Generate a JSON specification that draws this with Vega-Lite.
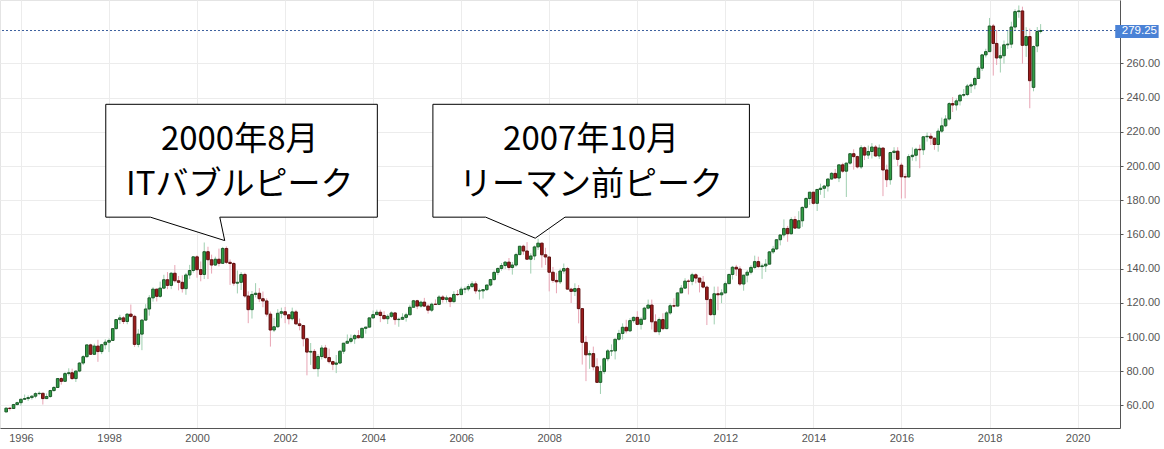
{
  "$schema": "https://vega.github.io/schema/vega-lite/v6.json",
  "width": 1120,
  "height": 428,
  "autosize": "none",
  "padding": {"left": 0, "top": 0, "right": 44, "bottom": 21},
  "background": "white",
  "config": {
    "view": {"stroke": "#e4e4e4"},
    "font": "Liberation Sans",
    "axis": {"labelFont": "Liberation Sans", "gridColor": "#ececec", "gridWidth": 1}
  },
  "datasets": {
    "spy": [
      {"d":"1995-09-01","o":56.2,"h":58.8,"l":56.0,"c":58.4},
      {"d":"1995-10-01","o":58.4,"h":58.9,"l":57.0,"c":58.2},
      {"d":"1995-11-01","o":58.2,"h":60.9,"l":57.9,"c":60.5},
      {"d":"1995-12-01","o":60.5,"h":62.2,"l":60.0,"c":61.6},
      {"d":"1996-01-01","o":61.6,"h":63.9,"l":59.8,"c":63.6},
      {"d":"1996-02-01","o":63.6,"h":66.4,"l":63.3,"c":64.0},
      {"d":"1996-03-01","o":64.0,"h":65.9,"l":62.6,"c":64.6},
      {"d":"1996-04-01","o":64.6,"h":66.0,"l":63.4,"c":65.4},
      {"d":"1996-05-01","o":65.4,"h":67.7,"l":64.2,"c":66.9},
      {"d":"1996-06-01","o":66.9,"h":68.2,"l":66.0,"c":67.1},
      {"d":"1996-07-01","o":67.1,"h":67.4,"l":60.5,"c":64.0},
      {"d":"1996-08-01","o":64.0,"h":67.0,"l":63.9,"c":65.2},
      {"d":"1996-09-01","o":65.2,"h":69.1,"l":64.5,"c":68.7},
      {"d":"1996-10-01","o":68.7,"h":71.4,"l":68.0,"c":70.5},
      {"d":"1996-11-01","o":70.5,"h":76.0,"l":70.4,"c":75.7},
      {"d":"1996-12-01","o":75.7,"h":76.5,"l":72.2,"c":74.1},
      {"d":"1997-01-01","o":74.1,"h":79.5,"l":73.7,"c":78.6},
      {"d":"1997-02-01","o":78.6,"h":81.7,"l":77.4,"c":79.1},
      {"d":"1997-03-01","o":79.1,"h":81.5,"l":75.0,"c":75.7},
      {"d":"1997-04-01","o":75.7,"h":80.4,"l":73.7,"c":80.1},
      {"d":"1997-05-01","o":80.1,"h":85.2,"l":79.4,"c":84.8},
      {"d":"1997-06-01","o":84.8,"h":89.4,"l":83.6,"c":88.5},
      {"d":"1997-07-01","o":88.5,"h":95.6,"l":88.0,"c":95.4},
      {"d":"1997-08-01","o":95.4,"h":96.1,"l":89.5,"c":89.9},
      {"d":"1997-09-01","o":89.9,"h":96.1,"l":89.5,"c":94.7},
      {"d":"1997-10-01","o":94.7,"h":98.4,"l":85.5,"c":91.5},
      {"d":"1997-11-01","o":91.5,"h":96.0,"l":90.0,"c":95.5},
      {"d":"1997-12-01","o":95.5,"h":98.7,"l":92.8,"c":97.0},
      {"d":"1998-01-01","o":97.0,"h":99.2,"l":91.2,"c":98.0},
      {"d":"1998-02-01","o":98.0,"h":105.0,"l":97.8,"c":104.9},
      {"d":"1998-03-01","o":104.9,"h":110.5,"l":104.4,"c":110.2},
      {"d":"1998-04-01","o":110.2,"h":113.0,"l":107.6,"c":111.2},
      {"d":"1998-05-01","o":111.2,"h":112.2,"l":107.6,"c":109.1},
      {"d":"1998-06-01","o":109.1,"h":113.9,"l":107.5,"c":113.4},
      {"d":"1998-07-01","o":113.4,"h":119.0,"l":111.4,"c":112.1},
      {"d":"1998-08-01","o":112.1,"h":113.0,"l":94.2,"c":95.7},
      {"d":"1998-09-01","o":95.7,"h":104.6,"l":94.0,"c":101.7},
      {"d":"1998-10-01","o":101.7,"h":110.5,"l":92.3,"c":109.9},
      {"d":"1998-11-01","o":109.9,"h":119.2,"l":109.6,"c":116.4},
      {"d":"1998-12-01","o":116.4,"h":124.5,"l":112.5,"c":122.9},
      {"d":"1999-01-01","o":122.9,"h":129.1,"l":120.7,"c":128.0},
      {"d":"1999-02-01","o":128.0,"h":128.2,"l":120.8,"c":123.8},
      {"d":"1999-03-01","o":123.8,"h":132.4,"l":122.9,"c":128.6},
      {"d":"1999-04-01","o":128.6,"h":136.4,"l":128.0,"c":133.5},
      {"d":"1999-05-01","o":133.5,"h":138.0,"l":128.0,"c":130.2},
      {"d":"1999-06-01","o":130.2,"h":138.0,"l":128.0,"c":137.3},
      {"d":"1999-07-01","o":137.3,"h":142.1,"l":131.8,"c":132.9},
      {"d":"1999-08-01","o":132.9,"h":135.7,"l":127.3,"c":132.0},
      {"d":"1999-09-01","o":132.0,"h":136.1,"l":126.0,"c":128.3},
      {"d":"1999-10-01","o":128.3,"h":137.5,"l":124.7,"c":136.3},
      {"d":"1999-11-01","o":136.3,"h":142.2,"l":134.0,"c":138.9},
      {"d":"1999-12-01","o":138.9,"h":147.3,"l":137.7,"c":146.9},
      {"d":"2000-01-01","o":146.9,"h":147.8,"l":134.7,"c":139.4},
      {"d":"2000-02-01","o":139.4,"h":144.2,"l":132.6,"c":136.6},
      {"d":"2000-03-01","o":136.6,"h":155.3,"l":133.9,"c":149.9},
      {"d":"2000-04-01","o":149.9,"h":152.8,"l":133.9,"c":145.2},
      {"d":"2000-05-01","o":145.2,"h":148.2,"l":137.1,"c":142.1},
      {"d":"2000-06-01","o":142.1,"h":147.0,"l":141.6,"c":145.5},
      {"d":"2000-07-01","o":145.5,"h":151.7,"l":141.3,"c":143.1},
      {"d":"2000-08-01","o":143.1,"h":152.7,"l":143.0,"c":151.8},
      {"d":"2000-09-01","o":151.8,"h":153.0,"l":142.7,"c":143.7},
      {"d":"2000-10-01","o":143.7,"h":145.4,"l":130.5,"c":143.0},
      {"d":"2000-11-01","o":143.0,"h":143.9,"l":130.0,"c":131.5},
      {"d":"2000-12-01","o":131.5,"h":138.9,"l":125.5,"c":132.0},
      {"d":"2001-01-01","o":132.0,"h":138.0,"l":127.5,"c":136.6},
      {"d":"2001-02-01","o":136.6,"h":137.6,"l":122.9,"c":124.0},
      {"d":"2001-03-01","o":124.0,"h":126.7,"l":108.1,"c":116.0},
      {"d":"2001-04-01","o":116.0,"h":126.9,"l":110.8,"c":124.9},
      {"d":"2001-05-01","o":124.9,"h":131.5,"l":123.2,"c":125.6},
      {"d":"2001-06-01","o":125.6,"h":128.6,"l":120.4,"c":122.4},
      {"d":"2001-07-01","o":122.4,"h":126.6,"l":117.4,"c":121.1},
      {"d":"2001-08-01","o":121.1,"h":122.6,"l":112.0,"c":113.4},
      {"d":"2001-09-01","o":113.4,"h":114.9,"l":94.4,"c":104.1},
      {"d":"2001-10-01","o":104.1,"h":111.2,"l":102.9,"c":106.0},
      {"d":"2001-11-01","o":106.0,"h":116.3,"l":105.5,"c":113.9},
      {"d":"2001-12-01","o":113.9,"h":117.2,"l":111.0,"c":114.8},
      {"d":"2002-01-01","o":114.8,"h":117.6,"l":108.1,"c":113.0},
      {"d":"2002-02-01","o":113.0,"h":113.5,"l":107.4,"c":110.7},
      {"d":"2002-03-01","o":110.7,"h":117.2,"l":109.7,"c":114.7},
      {"d":"2002-04-01","o":114.7,"h":115.9,"l":107.2,"c":107.7},
      {"d":"2002-05-01","o":107.7,"h":110.8,"l":103.9,"c":106.7},
      {"d":"2002-06-01","o":106.7,"h":107.1,"l":94.5,"c":99.0},
      {"d":"2002-07-01","o":99.0,"h":99.6,"l":77.6,"c":91.2},
      {"d":"2002-08-01","o":91.2,"h":96.5,"l":83.7,"c":91.6},
      {"d":"2002-09-01","o":91.6,"h":93.0,"l":81.3,"c":81.5},
      {"d":"2002-10-01","o":81.5,"h":90.0,"l":76.8,"c":88.6},
      {"d":"2002-11-01","o":88.6,"h":95.2,"l":86.9,"c":93.6},
      {"d":"2002-12-01","o":93.6,"h":95.4,"l":87.1,"c":88.0},
      {"d":"2003-01-01","o":88.0,"h":93.2,"l":84.5,"c":85.6},
      {"d":"2003-02-01","o":85.6,"h":86.2,"l":80.6,"c":84.1},
      {"d":"2003-03-01","o":84.1,"h":89.5,"l":78.9,"c":84.8},
      {"d":"2003-04-01","o":84.8,"h":92.4,"l":84.2,"c":91.7},
      {"d":"2003-05-01","o":91.7,"h":96.5,"l":90.1,"c":96.4},
      {"d":"2003-06-01","o":96.4,"h":101.5,"l":96.0,"c":97.5},
      {"d":"2003-07-01","o":97.5,"h":101.5,"l":96.3,"c":99.0},
      {"d":"2003-08-01","o":99.0,"h":101.8,"l":96.0,"c":100.8},
      {"d":"2003-09-01","o":100.8,"h":104.0,"l":99.0,"c":99.6},
      {"d":"2003-10-01","o":99.6,"h":105.3,"l":99.3,"c":105.1},
      {"d":"2003-11-01","o":105.1,"h":106.0,"l":102.0,"c":105.8},
      {"d":"2003-12-01","o":105.8,"h":111.3,"l":105.6,"c":111.2},
      {"d":"2004-01-01","o":111.2,"h":115.5,"l":110.6,"c":113.1},
      {"d":"2004-02-01","o":113.1,"h":116.0,"l":112.8,"c":114.5},
      {"d":"2004-03-01","o":114.5,"h":116.0,"l":108.7,"c":112.6},
      {"d":"2004-04-01","o":112.6,"h":115.1,"l":110.7,"c":110.7},
      {"d":"2004-05-01","o":110.7,"h":113.3,"l":107.6,"c":112.1},
      {"d":"2004-06-01","o":112.1,"h":115.0,"l":111.2,"c":114.1},
      {"d":"2004-07-01","o":114.1,"h":114.4,"l":107.2,"c":110.2},
      {"d":"2004-08-01","o":110.2,"h":111.3,"l":106.0,"c":110.4},
      {"d":"2004-09-01","o":110.4,"h":113.9,"l":110.0,"c":111.5},
      {"d":"2004-10-01","o":111.5,"h":114.2,"l":109.0,"c":113.0},
      {"d":"2004-11-01","o":113.0,"h":118.9,"l":113.0,"c":117.4},
      {"d":"2004-12-01","o":117.4,"h":121.7,"l":117.4,"c":121.2},
      {"d":"2005-01-01","o":121.2,"h":121.8,"l":116.3,"c":118.1},
      {"d":"2005-02-01","o":118.1,"h":121.3,"l":117.2,"c":120.4},
      {"d":"2005-03-01","o":120.4,"h":122.9,"l":117.5,"c":118.1},
      {"d":"2005-04-01","o":118.1,"h":119.2,"l":113.7,"c":115.7},
      {"d":"2005-05-01","o":115.7,"h":120.1,"l":114.6,"c":119.2},
      {"d":"2005-06-01","o":119.2,"h":122.0,"l":118.8,"c":119.1},
      {"d":"2005-07-01","o":119.1,"h":124.5,"l":118.7,"c":123.4},
      {"d":"2005-08-01","o":123.4,"h":124.5,"l":120.1,"c":122.0},
      {"d":"2005-09-01","o":122.0,"h":124.3,"l":120.2,"c":122.9},
      {"d":"2005-10-01","o":122.9,"h":123.4,"l":117.5,"c":120.7},
      {"d":"2005-11-01","o":120.7,"h":126.8,"l":120.1,"c":124.9},
      {"d":"2005-12-01","o":124.9,"h":127.5,"l":124.0,"c":124.8},
      {"d":"2006-01-01","o":124.8,"h":129.4,"l":124.6,"c":128.0},
      {"d":"2006-02-01","o":128.0,"h":129.5,"l":125.6,"c":128.1},
      {"d":"2006-03-01","o":128.1,"h":131.0,"l":126.8,"c":129.5},
      {"d":"2006-04-01","o":129.5,"h":132.6,"l":128.6,"c":131.1},
      {"d":"2006-05-01","o":131.1,"h":132.6,"l":125.3,"c":127.0},
      {"d":"2006-06-01","o":127.0,"h":128.3,"l":121.9,"c":127.0},
      {"d":"2006-07-01","o":127.0,"h":128.0,"l":122.5,"c":127.7},
      {"d":"2006-08-01","o":127.7,"h":130.7,"l":126.9,"c":130.4},
      {"d":"2006-09-01","o":130.4,"h":134.0,"l":129.6,"c":133.6},
      {"d":"2006-10-01","o":133.6,"h":138.9,"l":133.0,"c":137.8},
      {"d":"2006-11-01","o":137.8,"h":140.7,"l":136.2,"c":140.1},
      {"d":"2006-12-01","o":140.1,"h":143.3,"l":138.8,"c":141.8},
      {"d":"2007-01-01","o":141.8,"h":144.4,"l":139.8,"c":143.8},
      {"d":"2007-02-01","o":143.8,"h":146.2,"l":139.0,"c":140.7},
      {"d":"2007-03-01","o":140.7,"h":143.9,"l":136.5,"c":142.1},
      {"d":"2007-04-01","o":142.1,"h":149.3,"l":141.1,"c":148.2},
      {"d":"2007-05-01","o":148.2,"h":153.2,"l":148.2,"c":153.1},
      {"d":"2007-06-01","o":153.1,"h":154.0,"l":148.1,"c":150.3},
      {"d":"2007-07-01","o":150.3,"h":155.5,"l":145.5,"c":145.5},
      {"d":"2007-08-01","o":145.5,"h":149.0,"l":137.1,"c":147.4},
      {"d":"2007-09-01","o":147.4,"h":153.5,"l":145.0,"c":152.7},
      {"d":"2007-10-01","o":152.7,"h":157.5,"l":150.9,"c":154.9},
      {"d":"2007-11-01","o":154.9,"h":155.2,"l":140.6,"c":148.1},
      {"d":"2007-12-01","o":148.1,"h":152.2,"l":142.1,"c":146.8},
      {"d":"2008-01-01","o":146.8,"h":147.0,"l":126.7,"c":137.9},
      {"d":"2008-02-01","o":137.9,"h":141.0,"l":131.7,"c":133.1},
      {"d":"2008-03-01","o":133.1,"h":137.6,"l":125.6,"c":132.3},
      {"d":"2008-04-01","o":132.3,"h":140.0,"l":131.0,"c":138.6},
      {"d":"2008-05-01","o":138.6,"h":143.0,"l":137.0,"c":140.0},
      {"d":"2008-06-01","o":140.0,"h":141.0,"l":127.8,"c":128.0},
      {"d":"2008-07-01","o":128.0,"h":128.8,"l":119.9,"c":126.7},
      {"d":"2008-08-01","o":126.7,"h":131.4,"l":124.0,"c":128.3},
      {"d":"2008-09-01","o":128.3,"h":130.4,"l":108.0,"c":116.6},
      {"d":"2008-10-01","o":116.6,"h":116.6,"l":83.9,"c":96.9},
      {"d":"2008-11-01","o":96.9,"h":100.7,"l":74.2,"c":89.6},
      {"d":"2008-12-01","o":89.6,"h":92.1,"l":81.4,"c":90.3},
      {"d":"2009-01-01","o":90.3,"h":94.4,"l":80.5,"c":82.6},
      {"d":"2009-02-01","o":82.6,"h":87.6,"l":73.5,"c":73.5},
      {"d":"2009-03-01","o":73.5,"h":83.3,"l":66.7,"c":79.8},
      {"d":"2009-04-01","o":79.8,"h":88.1,"l":78.3,"c":87.3},
      {"d":"2009-05-01","o":87.3,"h":93.0,"l":85.8,"c":91.9},
      {"d":"2009-06-01","o":91.9,"h":95.7,"l":88.9,"c":91.9},
      {"d":"2009-07-01","o":91.9,"h":99.0,"l":86.9,"c":98.7},
      {"d":"2009-08-01","o":98.7,"h":104.2,"l":97.9,"c":102.1},
      {"d":"2009-09-01","o":102.1,"h":108.0,"l":98.5,"c":105.7},
      {"d":"2009-10-01","o":105.7,"h":110.1,"l":102.1,"c":103.6},
      {"d":"2009-11-01","o":103.6,"h":111.0,"l":102.9,"c":109.6},
      {"d":"2009-12-01","o":109.6,"h":112.0,"l":108.4,"c":111.5},
      {"d":"2010-01-01","o":111.5,"h":115.1,"l":107.4,"c":107.4},
      {"d":"2010-02-01","o":107.4,"h":111.6,"l":104.4,"c":110.4},
      {"d":"2010-03-01","o":110.4,"h":117.7,"l":110.4,"c":116.9},
      {"d":"2010-04-01","o":116.9,"h":121.9,"l":116.2,"c":118.7},
      {"d":"2010-05-01","o":118.7,"h":121.9,"l":104.4,"c":108.9},
      {"d":"2010-06-01","o":108.9,"h":113.3,"l":103.1,"c":103.1},
      {"d":"2010-07-01","o":103.1,"h":111.4,"l":101.1,"c":110.2},
      {"d":"2010-08-01","o":110.2,"h":113.9,"l":104.0,"c":104.9},
      {"d":"2010-09-01","o":104.9,"h":115.2,"l":104.6,"c":114.1},
      {"d":"2010-10-01","o":114.1,"h":119.7,"l":113.0,"c":118.3},
      {"d":"2010-11-01","o":118.3,"h":122.7,"l":117.4,"c":118.1},
      {"d":"2010-12-01","o":118.1,"h":126.0,"l":118.0,"c":125.8},
      {"d":"2011-01-01","o":125.8,"h":130.4,"l":125.8,"c":128.6},
      {"d":"2011-02-01","o":128.6,"h":134.4,"l":128.2,"c":132.7},
      {"d":"2011-03-01","o":132.7,"h":133.8,"l":124.9,"c":132.6},
      {"d":"2011-04-01","o":132.6,"h":137.6,"l":130.3,"c":136.4},
      {"d":"2011-05-01","o":136.4,"h":137.3,"l":131.4,"c":134.5},
      {"d":"2011-06-01","o":134.5,"h":134.5,"l":126.1,"c":132.1},
      {"d":"2011-07-01","o":132.1,"h":135.7,"l":128.4,"c":129.2},
      {"d":"2011-08-01","o":129.2,"h":130.1,"l":107.0,"c":121.9},
      {"d":"2011-09-01","o":121.9,"h":123.0,"l":112.4,"c":113.1},
      {"d":"2011-10-01","o":113.1,"h":129.5,"l":107.4,"c":125.3},
      {"d":"2011-11-01","o":125.3,"h":129.5,"l":115.7,"c":124.7},
      {"d":"2011-12-01","o":124.7,"h":127.9,"l":119.8,"c":125.8},
      {"d":"2012-01-01","o":125.8,"h":132.5,"l":125.5,"c":131.2},
      {"d":"2012-02-01","o":131.2,"h":137.0,"l":131.0,"c":136.6},
      {"d":"2012-03-01","o":136.6,"h":141.6,"l":133.6,"c":140.8},
      {"d":"2012-04-01","o":140.8,"h":142.2,"l":135.7,"c":139.8},
      {"d":"2012-05-01","o":139.8,"h":141.4,"l":130.0,"c":131.0},
      {"d":"2012-06-01","o":131.0,"h":136.3,"l":127.1,"c":136.2},
      {"d":"2012-07-01","o":136.2,"h":139.2,"l":132.0,"c":137.9},
      {"d":"2012-08-01","o":137.9,"h":142.0,"l":136.6,"c":140.7},
      {"d":"2012-09-01","o":140.7,"h":147.6,"l":139.7,"c":144.1},
      {"d":"2012-10-01","o":144.1,"h":147.0,"l":140.3,"c":141.2},
      {"d":"2012-11-01","o":141.2,"h":143.0,"l":134.0,"c":141.6},
      {"d":"2012-12-01","o":141.6,"h":145.6,"l":138.0,"c":142.6},
      {"d":"2013-01-01","o":142.6,"h":150.3,"l":142.6,"c":149.8},
      {"d":"2013-02-01","o":149.8,"h":153.3,"l":148.6,"c":151.5},
      {"d":"2013-03-01","o":151.5,"h":157.2,"l":151.0,"c":156.9},
      {"d":"2013-04-01","o":156.9,"h":159.7,"l":153.6,"c":159.7},
      {"d":"2013-05-01","o":159.7,"h":168.8,"l":158.2,"c":163.5},
      {"d":"2013-06-01","o":163.5,"h":165.0,"l":155.7,"c":160.4},
      {"d":"2013-07-01","o":160.4,"h":170.0,"l":159.8,"c":168.7},
      {"d":"2013-08-01","o":168.7,"h":170.6,"l":163.2,"c":163.7},
      {"d":"2013-09-01","o":163.7,"h":173.6,"l":163.6,"c":168.0},
      {"d":"2013-10-01","o":168.0,"h":176.4,"l":164.5,"c":175.8},
      {"d":"2013-11-01","o":175.8,"h":181.8,"l":174.9,"c":181.0},
      {"d":"2013-12-01","o":181.0,"h":184.7,"l":177.3,"c":184.7},
      {"d":"2014-01-01","o":184.7,"h":184.8,"l":177.4,"c":178.2},
      {"d":"2014-02-01","o":178.2,"h":186.6,"l":173.7,"c":186.3},
      {"d":"2014-03-01","o":186.3,"h":189.7,"l":183.2,"c":187.0},
      {"d":"2014-04-01","o":187.0,"h":189.0,"l":181.3,"c":188.3},
      {"d":"2014-05-01","o":188.3,"h":192.8,"l":185.1,"c":192.4},
      {"d":"2014-06-01","o":192.4,"h":196.5,"l":192.0,"c":195.7},
      {"d":"2014-07-01","o":195.7,"h":198.3,"l":192.5,"c":193.0},
      {"d":"2014-08-01","o":193.0,"h":200.5,"l":190.6,"c":200.7},
      {"d":"2014-09-01","o":200.7,"h":201.9,"l":196.0,"c":197.0},
      {"d":"2014-10-01","o":197.0,"h":202.0,"l":181.9,"c":201.7},
      {"d":"2014-11-01","o":201.7,"h":207.2,"l":200.8,"c":207.2},
      {"d":"2014-12-01","o":207.2,"h":209.8,"l":197.9,"c":205.5},
      {"d":"2015-01-01","o":205.5,"h":206.1,"l":198.6,"c":199.5},
      {"d":"2015-02-01","o":199.5,"h":212.2,"l":198.3,"c":210.7},
      {"d":"2015-03-01","o":210.7,"h":211.5,"l":203.5,"c":206.4},
      {"d":"2015-04-01","o":206.4,"h":212.0,"l":204.1,"c":208.5},
      {"d":"2015-05-01","o":208.5,"h":213.4,"l":204.4,"c":211.1},
      {"d":"2015-06-01","o":211.1,"h":212.3,"l":205.3,"c":205.9},
      {"d":"2015-07-01","o":205.9,"h":212.6,"l":204.1,"c":210.5},
      {"d":"2015-08-01","o":210.5,"h":211.0,"l":182.4,"c":197.7},
      {"d":"2015-09-01","o":197.7,"h":200.8,"l":187.7,"c":192.0},
      {"d":"2015-10-01","o":192.0,"h":208.3,"l":189.1,"c":207.9},
      {"d":"2015-11-01","o":207.9,"h":211.0,"l":203.8,"c":208.7},
      {"d":"2015-12-01","o":208.7,"h":211.0,"l":200.0,"c":203.9},
      {"d":"2016-01-01","o":200.5,"h":201.9,"l":181.0,"c":193.7},
      {"d":"2016-02-01","o":193.7,"h":195.6,"l":181.1,"c":193.6},
      {"d":"2016-03-01","o":193.6,"h":206.9,"l":193.4,"c":205.5},
      {"d":"2016-04-01","o":205.5,"h":210.9,"l":203.1,"c":206.3},
      {"d":"2016-05-01","o":206.3,"h":210.7,"l":202.8,"c":209.8},
      {"d":"2016-06-01","o":209.8,"h":212.5,"l":198.7,"c":209.5},
      {"d":"2016-07-01","o":209.5,"h":217.5,"l":206.5,"c":217.1},
      {"d":"2016-08-01","o":217.1,"h":219.6,"l":214.3,"c":217.4},
      {"d":"2016-09-01","o":217.4,"h":219.2,"l":212.3,"c":216.3},
      {"d":"2016-10-01","o":216.3,"h":216.7,"l":209.5,"c":212.6},
      {"d":"2016-11-01","o":212.6,"h":222.0,"l":208.4,"c":220.4},
      {"d":"2016-12-01","o":220.4,"h":228.3,"l":219.3,"c":223.5},
      {"d":"2017-01-01","o":223.5,"h":229.7,"l":222.7,"c":227.5},
      {"d":"2017-02-01","o":227.5,"h":237.3,"l":226.6,"c":236.5},
      {"d":"2017-03-01","o":236.5,"h":240.3,"l":231.6,"c":235.7},
      {"d":"2017-04-01","o":235.7,"h":239.5,"l":232.5,"c":238.1},
      {"d":"2017-05-01","o":238.1,"h":242.1,"l":235.4,"c":241.4},
      {"d":"2017-06-01","o":241.4,"h":245.0,"l":240.3,"c":241.8},
      {"d":"2017-07-01","o":241.8,"h":248.0,"l":240.9,"c":246.8},
      {"d":"2017-08-01","o":246.8,"h":248.9,"l":242.7,"c":247.5},
      {"d":"2017-09-01","o":247.5,"h":252.3,"l":244.9,"c":251.2},
      {"d":"2017-10-01","o":251.2,"h":258.4,"l":251.2,"c":257.2},
      {"d":"2017-11-01","o":257.2,"h":265.5,"l":255.6,"c":265.0},
      {"d":"2017-12-01","o":265.0,"h":268.6,"l":263.5,"c":266.9},
      {"d":"2018-01-01","o":266.9,"h":286.6,"l":267.4,"c":281.9},
      {"d":"2018-02-01","o":281.9,"h":283.1,"l":252.9,"c":271.7},
      {"d":"2018-03-01","o":271.7,"h":279.5,"l":259.1,"c":263.2},
      {"d":"2018-04-01","o":263.2,"h":269.9,"l":254.7,"c":264.5},
      {"d":"2018-05-01","o":264.5,"h":273.4,"l":259.9,"c":270.9},
      {"d":"2018-06-01","o":270.9,"h":279.5,"l":268.5,"c":271.3},
      {"d":"2018-07-01","o":271.3,"h":284.4,"l":269.0,"c":281.3},
      {"d":"2018-08-01","o":281.3,"h":291.7,"l":279.2,"c":290.3},
      {"d":"2018-09-01","o":290.3,"h":293.9,"l":286.7,"c":290.7},
      {"d":"2018-10-01","o":290.7,"h":293.2,"l":259.9,"c":270.6},
      {"d":"2018-11-01","o":270.6,"h":281.2,"l":263.8,"c":275.7},
      {"d":"2018-12-01","o":275.7,"h":280.4,"l":233.8,"c":249.9},
      {"d":"2019-01-01","o":246.0,"h":270.5,"l":243.7,"c":269.9},
      {"d":"2019-02-01","o":270.2,"h":281.3,"l":266.6,"c":278.7},
      {"d":"2019-03-01","o":278.7,"h":283.0,"l":277.5,"c":279.25}
    ],
    "callout": [
      {"g":1,"i":1,"x":"1997-12-05","y":236.1},
      {"g":1,"i":2,"x":"2004-02-05","y":236.1},
      {"g":1,"i":3,"x":"2004-02-05","y":170.1},
      {"g":1,"i":4,"x":"2000-07-08","y":170.1},
      {"g":1,"i":5,"x":"2000-08-18","y":156.4},
      {"g":1,"i":6,"x":"1998-12-10","y":170.1},
      {"g":1,"i":7,"x":"1997-12-05","y":170.1},
      {"g":1,"i":8,"x":"1997-12-05","y":236.1},
      {"g":2,"i":1,"x":"2005-05-11","y":236.1},
      {"g":2,"i":2,"x":"2012-07-19","y":236.1},
      {"g":2,"i":3,"x":"2012-07-19","y":170.1},
      {"g":2,"i":4,"x":"2008-05-11","y":170.1},
      {"g":2,"i":5,"x":"2007-09-07","y":157.8},
      {"g":2,"i":6,"x":"2006-07-23","y":170.1},
      {"g":2,"i":7,"x":"2005-05-11","y":170.1},
      {"g":2,"i":8,"x":"2005-05-11","y":236.1}
    ],
    "labels": [
      {"x":"2000-12-20","y":215.3,"t":"2000年8月"},
      {"x":"2000-12-20","y":188.9,"t":"ITバブルピーク"},
      {"x":"2008-12-13","y":215.3,"t":"2007年10月"},
      {"x":"2008-12-13","y":188.9,"t":"リーマン前ピーク"}
    ],
    "last": [
      {"x1":"2020-11-09","x2":"2021-11-04","tx":"2021-01-02","v":279.25,"lo":274.9,"hi":282.5,"ty":278.7,"t":"279.25"}
    ]
  },
  "encoding": {
    "x": {
      "type": "temporal",
      "scale": {"type": "utc", "domain": [{"year":1995,"month":8,"date":22,"utc":true},{"year":2020,"month":11,"date":7,"utc":true}], "nice": false},
      "axis": {
        "title": null,
        "orient": "bottom",
        "values": [{"year":1996,"month":1,"date":1,"utc":true},{"year":1998,"month":1,"date":1,"utc":true},{"year":2000,"month":1,"date":1,"utc":true},{"year":2002,"month":1,"date":1,"utc":true},{"year":2004,"month":1,"date":1,"utc":true},{"year":2006,"month":1,"date":1,"utc":true},{"year":2008,"month":1,"date":1,"utc":true},{"year":2010,"month":1,"date":1,"utc":true},{"year":2012,"month":1,"date":1,"utc":true},{"year":2014,"month":1,"date":1,"utc":true},{"year":2016,"month":1,"date":1,"utc":true},{"year":2018,"month":1,"date":1,"utc":true},{"year":2020,"month":1,"date":1,"utc":true}],
        "format": "%Y",
        "formatType": "utc",
        "labelFontSize": 11,
        "labelColor": "#555555",
        "labelPadding": 4,
        "ticks": false,
        "domainColor": "#555555",
        "grid": true
      }
    },
    "y": {
      "type": "quantitative",
      "scale": {"domain": [46.8, 297.1], "nice": false, "zero": false},
      "axis": {
        "title": null,
        "orient": "right",
        "values": [60, 80, 100, 120, 140, 160, 180, 200, 220, 240, 260],
        "format": ".2f",
        "labelFontSize": 11,
        "labelColor": "#555555",
        "tickSize": 3,
        "tickColor": "#555555",
        "labelPadding": 3,
        "domainColor": "#555555",
        "grid": true
      }
    }
  },
  "layer": [
    {
      "data": {"name": "spy"},
      "mark": {"type": "rule", "strokeWidth": 1},
      "encoding": {
        "x": {"field": "d"},
        "y": {"field": "l"},
        "y2": {"field": "h"},
        "color": {"condition": {"test": "datum.c >= datum.o", "value": "#9fcfb0"}, "value": "#e8a4b4"}
      }
    },
    {
      "data": {"name": "spy"},
      "mark": {"type": "bar", "size": 2.6, "strokeWidth": 1},
      "encoding": {
        "x": {"field": "d"},
        "y": {"field": "o"},
        "y2": {"field": "c"},
        "fill": {"condition": {"test": "datum.c >= datum.o", "value": "#2f9e44"}, "value": "#9b1b1b"},
        "stroke": {"condition": {"test": "datum.c >= datum.o", "value": "#1d5a2a"}, "value": "#5e1010"}
      }
    },
    {
      "data": {"name": "last"},
      "mark": {"type": "rule", "strokeDash": [2, 2], "strokeWidth": 1, "color": "#3b5f9e"},
      "encoding": {"y": {"field": "v"}}
    },
    {
      "data": {"name": "last"},
      "mark": {"type": "rect", "color": "#4a82d6", "clip": false},
      "encoding": {
        "x": {"field": "x1"},
        "x2": {"field": "x2"},
        "y": {"field": "lo"},
        "y2": {"field": "hi"}
      }
    },
    {
      "data": {"name": "last"},
      "mark": {"type": "text", "color": "white", "align": "left", "baseline": "middle", "fontSize": 11.5, "font": "Liberation Sans", "clip": false},
      "encoding": {
        "x": {"field": "tx"},
        "y": {"field": "ty"},
        "text": {"field": "t"}
      }
    },
    {
      "data": {"name": "callout"},
      "mark": {"type": "line", "fill": "white", "stroke": "black", "strokeWidth": 1, "interpolate": "linear"},
      "encoding": {
        "x": {"field": "x"},
        "y": {"field": "y"},
        "order": {"field": "i", "type": "quantitative"},
        "detail": {"field": "g", "type": "nominal"}
      }
    },
    {
      "data": {"name": "labels"},
      "mark": {"type": "text", "font": "Noto Sans CJK JP", "fontSize": 33, "color": "black", "align": "center", "baseline": "middle"},
      "encoding": {
        "x": {"field": "x"},
        "y": {"field": "y"},
        "text": {"field": "t"}
      }
    }
  ]
}
